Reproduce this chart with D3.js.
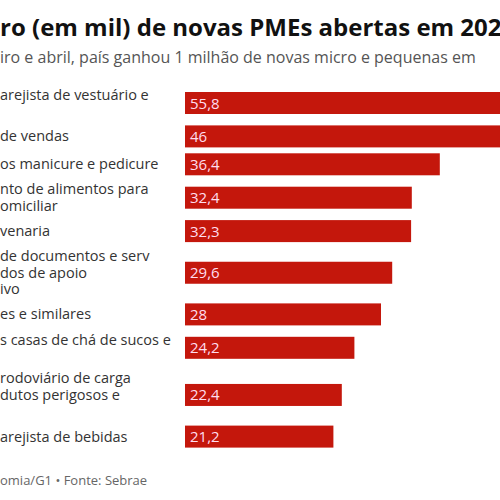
<!DOCTYPE html>
<html><head><meta charset="utf-8">
<script src="https://cdn.jsdelivr.net/npm/d3@7"></script>
<style>body{margin:0;background:#fff}</style></head>
<body><svg id="c" width="500" height="500"></svg>
<script>
const labels = [
  ["arejista de vestuário e",""],
  ["de vendas"],
  ["os manicure e pedicure"],
  ["nto de alimentos para","omiciliar"],
  ["venaria"],
  ["de documentos e serv","dos de apoio","ivo"],
  ["es e similares"],
  ["s casas de chá de sucos e",""],
  ["rodoviário de carga","dutos perigosos e",""],
  ["arejista de bebidas"]
];
const values = [55.8,46,36.4,32.4,32.3,29.6,28,24.2,22.4,21.2];
const valueLabels = ["55,8","46","36,4","32,4","32,3","29,6","28","24,2","22,4","21,2"];
const title = "ro (em mil) de novas PMEs abertas em 2021";
const subtitle = "iro e abril, país ganhou 1 milhão de novas micro e pequenas em";
const footer = "omia/G1 • Fonte: Sebrae";

const svg = d3.select("#c");
const font = "'Open Sans', sans-serif";
const x = d3.scaleLinear().domain([0, 10]).range([185, 255]);
const lineH = 16.5, barH = 22, gap = 5.9;
const hs = labels.map(l => Math.max(barH, l.length*lineH));
const centers = [];
hs.forEach((h,i)=>{ centers.push(i===0?103:centers[i-1]+(hs[i-1]+h)/2+gap); });

svg.append("text").attr("x",0).attr("y",36).attr("font-family",font).attr("font-weight",700)
  .attr("font-size",24).attr("fill","#111").text(title);
svg.append("text").attr("x",0).attr("y",63).attr("font-family",font)
  .attr("font-size",16).attr("fill","#555").text(subtitle);

const g = svg.selectAll("g.row").data(values).join("g");
g.append("rect").attr("x",x(0)).attr("y",(d,i)=>centers[i]-barH/2)
  .attr("width",d=>x(d)-x(0)).attr("height",barH).attr("fill","#c4170c");
g.append("text").attr("x",x(0)+5).attr("y",(d,i)=>centers[i]+5.5)
  .attr("font-family",font).attr("font-size",15).attr("fill","#fde").text((d,i)=>valueLabels[i]);
g.each(function(d,i){
  const n = labels[i].length;
  const t = d3.select(this).append("text").attr("font-family",font).attr("font-size",14.5).attr("fill","#333");
  labels[i].forEach((s,k)=>{
    t.append("tspan").attr("x",0).attr("y",centers[i]-(n-1)*lineH/2+k*lineH+5).text(s);
  });
});
svg.append("text").attr("x",0).attr("y",485).attr("font-family",font)
  .attr("font-size",13).attr("fill","#666").text(footer);
</script></body></html>
